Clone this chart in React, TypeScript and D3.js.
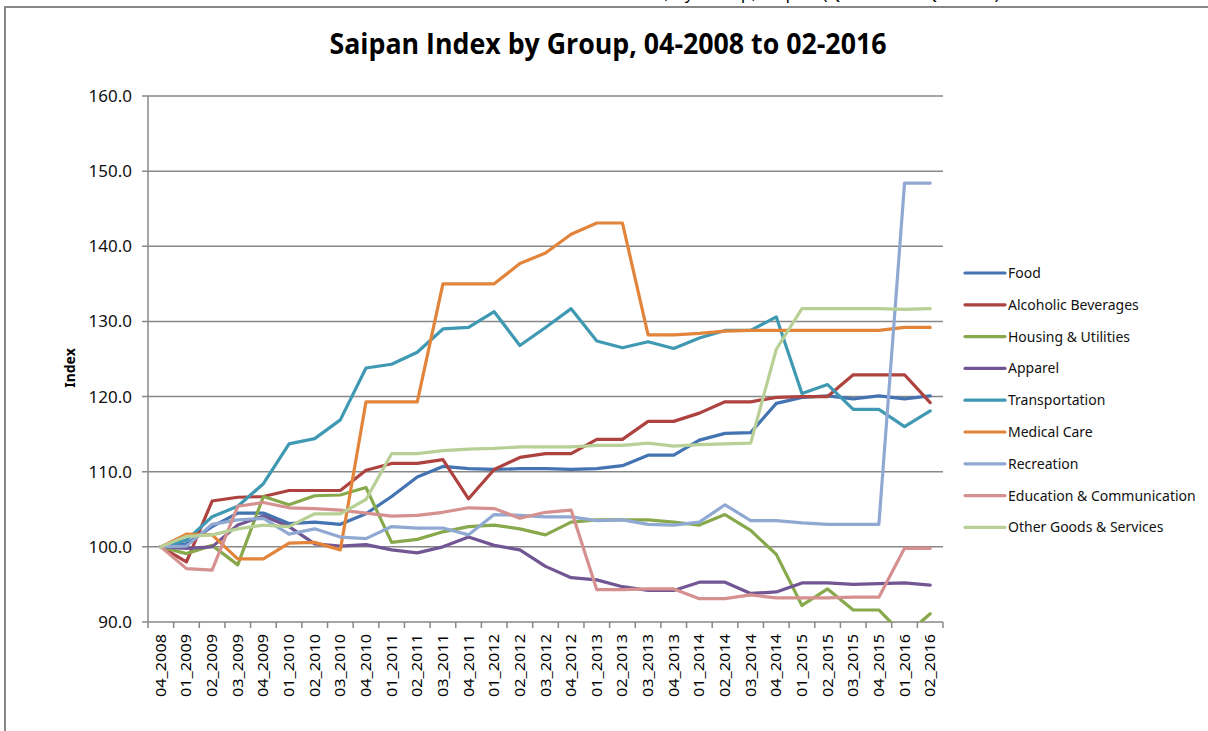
import * as d3 from 'd3';
import React from 'react';

const categories = [
  '04_2008', '01_2009', '02_2009', '03_2009', '04_2009', '01_2010', '02_2010', '03_2010',
  '04_2010', '01_2011', '02_2011', '03_2011', '04_2011', '01_2012', '02_2012', '03_2012',
  '04_2012', '01_2013', '02_2013', '03_2013', '04_2013', '01_2014', '02_2014', '03_2014',
  '04_2014', '01_2015', '02_2015', '03_2015', '04_2015', '01_2016', '02_2016'
];

const food = [100, 100.4, 102.7, 104.5, 104.5, 103.1, 103.3, 103.0, 104.4, 106.7, 109.3, 110.7, 110.4, 110.3, 110.4, 110.4,
  110.3, 110.4, 110.8, 112.2, 112.2, 114.2, 115.1, 115.2, 119.1, 119.9, 120.1, 119.7, 120.1, 119.7, 120.1];
const alcoholic = [100, 98.0, 106.1, 106.6, 106.7, 107.5, 107.5, 107.5, 110.2, 111.1, 111.1, 111.6, 106.4, 110.3, 111.9, 112.4,
  112.4, 114.3, 114.3, 116.7, 116.7, 117.8, 119.3, 119.3, 119.9, 120.0, 120.0, 122.9, 122.9, 122.9, 119.2];
const housing = [100, 99.1, 100.2, 97.6, 106.7, 105.6, 106.8, 106.9, 107.9, 100.6, 101.0, 102.0, 102.7, 102.9, 102.4, 101.6,
  103.3, 103.6, 103.6, 103.6, 103.3, 102.9, 104.3, 102.2, 99.0, 92.2, 94.4, 91.6, 91.6, 88.1, 91.1];
const apparel = [100, 99.8, 100.0, 102.9, 104.1, 102.7, 100.4, 100.1, 100.3, 99.6, 99.2, 100.0, 101.3, 100.2, 99.6, 97.4,
  95.9, 95.6, 94.7, 94.2, 94.2, 95.3, 95.3, 93.8, 94.0, 95.2, 95.2, 95.0, 95.1, 95.2, 94.9];
const transportation = [100, 100.9, 104.0, 105.4, 108.4, 113.7, 114.4, 116.9, 123.8, 124.3, 125.9, 129.0, 129.2, 131.3, 126.8, 129.2,
  131.7, 127.4, 126.5, 127.3, 126.4, 127.8, 128.8, 128.8, 130.6, 120.4, 121.6, 118.3, 118.3, 116.0, 118.1];
const medical = [100, 101.7, 101.6, 98.4, 98.4, 100.5, 100.6, 99.6, 119.3, 119.3, 119.3, 135.0, 135.0, 135.0, 137.7, 139.1,
  141.6, 143.1, 143.1, 128.2, 128.2, 128.4, 128.7, 128.8, 128.8, 128.8, 128.8, 128.8, 128.8, 129.2, 129.2];
const recreation = [100, 100.1, 103.0, 103.6, 103.8, 101.7, 102.4, 101.3, 101.1, 102.7, 102.5, 102.5, 101.6, 104.3, 104.2, 104.0,
  104.0, 103.5, 103.6, 103.0, 102.9, 103.3, 105.6, 103.5, 103.5, 103.2, 103.0, 103.0, 103.0, 148.4, 148.4];
const education = [100, 97.1, 96.9, 105.4, 105.9, 105.2, 105.1, 104.9, 104.5, 104.1, 104.2, 104.6, 105.2, 105.1, 103.8, 104.6,
  104.9, 94.3, 94.3, 94.4, 94.4, 93.1, 93.1, 93.6, 93.2, 93.2, 93.2, 93.3, 93.3, 99.8, 99.8];
const other = [100, 101.4, 101.6, 102.4, 102.9, 102.7, 104.4, 104.4, 106.3, 112.4, 112.4, 112.8, 113.0, 113.1, 113.3, 113.3,
  113.3, 113.5, 113.5, 113.8, 113.4, 113.6, 113.7, 113.8, 126.3, 131.7, 131.7, 131.7, 131.7, 131.6, 131.7];

const seriesNames = ['Food', 'Alcoholic Beverages', 'Housing & Utilities', 'Apparel', 'Transportation',
  'Medical Care', 'Recreation', 'Education & Communication', 'Other Goods & Services'];
const seriesValues = [food, alcoholic, housing, apparel, transportation, medical, recreation, education, other];
const seriesColors = ['#4373B1', '#AD423F', '#88A94B', '#725694', '#4099B3', '#E3843B', '#90A9D3', '#D5918F', '#B8D095'];

const yTicks = [90, 100, 110, 120, 130, 140, 150, 160];

const W = 1208;
const H = 731;
const plot = { left: 148, right: 943, top: 96, bottom: 622 };
const font = "'Liberation Sans Narrow', 'Open Sans', 'Noto Sans', sans-serif";

export default function App() {
  const x = d3.scaleBand<string>().domain(categories).range([plot.left, plot.right]).paddingInner(0).paddingOuter(0);
  const y = d3.scaleLinear().domain([90, 160]).range([plot.bottom, plot.top]);
  const cx = (c: string) => (x(c) as number) + x.bandwidth() / 2;

  const line = d3.line<number>()
    .x((d, i) => cx(categories[i]))
    .y(d => y(d));

  const boundaries = categories.map(c => x(c) as number).concat([plot.right]);

  return (
    <svg width={W} height={H} style={{ position: 'absolute', left: 0, top: 0, background: '#fff' }}
      fontFamily={font}>
      <rect x={0} y={0} width={W} height={H} fill="#fff" />
      <text x={740} y={-1} textAnchor="middle" fontSize={18} fill="#000">
        Consumer Price Index, by Group, Saipan (Q4 2008 to Q2 2016)
      </text>
      <path d={`M5,${H} L5,7 L${W},7`} fill="none" stroke="#878787" strokeWidth={2} />

      <text x={608} y={54} textAnchor="middle" fontSize={28} fontWeight="bold" fill="#000"
        textLength={557} lengthAdjust="spacingAndGlyphs">
        Saipan Index by Group, 04-2008 to 02-2016
      </text>

      <defs>
        <clipPath id="plot-clip">
          <rect x={plot.left} y={plot.top - 5} width={plot.right - plot.left + 5} height={plot.bottom - plot.top + 5} />
        </clipPath>
      </defs>

      {yTicks.map(t => (
        <g key={t}>
          <line x1={plot.left - 6} x2={plot.right} y1={y(t)} y2={y(t)} stroke="#888" strokeWidth={1.5} />
          <text x={132} y={y(t)} dy="0.35em" textAnchor="end" fontSize={17} fill="#111"
            fontFamily="'Noto Sans', sans-serif">{t.toFixed(1)}</text>
        </g>
      ))}
      <line x1={plot.left} x2={plot.left} y1={plot.top} y2={plot.bottom} stroke="#888" strokeWidth={1.5} />
      {boundaries.map((b, i) => (
        <line key={i} x1={b} x2={b} y1={plot.bottom} y2={plot.bottom + 6} stroke="#888" strokeWidth={1.5} />
      ))}
      {categories.map(c => (
        <text key={c} transform={`translate(${cx(c) + 5},${plot.bottom + 12}) rotate(-90)`} textAnchor="end"
          fontSize={15} fill="#000" fontFamily="'Noto Sans', sans-serif" textLength={63} lengthAdjust="spacingAndGlyphs">
          {c}
        </text>
      ))}
      <text transform={`translate(75,368) rotate(-90)`} textAnchor="middle" fontSize={14} fontWeight="bold"
        fill="#000" fontFamily="'Noto Sans', sans-serif">Index</text>

      <g clipPath="url(#plot-clip)">
        {seriesValues.map((vals, k) => (
          <path key={seriesNames[k]} d={line(vals) || ''} fill="none" stroke={seriesColors[k]}
            strokeWidth={3.2} strokeLinejoin="round" strokeLinecap="round" />
        ))}
      </g>

      {seriesNames.map((name, k) => {
        const ly = 273 + k * 31.8;
        return (
          <g key={name}>
            <line x1={965} x2={1005} y1={ly} y2={ly} stroke={seriesColors[k]} strokeWidth={3.2} strokeLinecap="round" />
            <text x={1008} y={ly} dy="0.35em" fontSize={14} fill="#111" fontFamily="'Noto Sans', sans-serif">{name}</text>
          </g>
        );
      })}
    </svg>
  );
}
